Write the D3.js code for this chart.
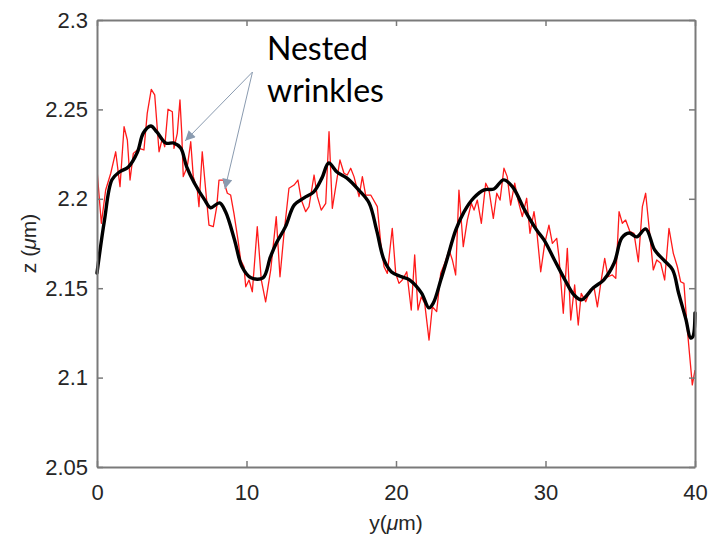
<!DOCTYPE html>
<html>
<head>
<meta charset="utf-8">
<script src="https://cdn.jsdelivr.net/npm/d3@7"></script>
<style>
  html, body { margin: 0; padding: 0; background: #ffffff; }
  svg { display: block; }
</style>
</head>
<body>
<div id="chart"></div>
<script>
// ---- data ----
// raw profile (red): position y (µm) and height z (µm)
const rawY = [0.02,0.29,0.58,0.92,1.25,1.54,1.81,2.03,2.21,2.43,2.81,3.14,3.36,3.63,3.86,4.15,4.37,4.53,4.75,5.04,5.15,5.37,5.55,5.67,5.77,6.04,6.27,6.44,6.71,6.82,7.04,7.27,7.49,7.78,8.01,8.16,8.45,8.72,8.94,9.16,9.43,9.61,9.83,
  9.95,10.17,10.39,10.72,10.99,11.28,11.62,11.99,12.24,12.51,12.84,13.18,13.44,13.67,13.96,14.18,14.52,14.74,15.00,15.30,15.52,15.74,15.97,16.25,16.52,16.74,16.97,17.19,17.53,17.75,17.97,18.31,18.75,18.98,19.20,19.42,19.75,19.98,20.20,20.42,
  20.72,21.02,21.25,21.47,21.69,21.92,22.21,22.43,22.72,22.99,23.26,23.55,23.77,23.99,24.21,24.50,24.77,25.04,25.22,25.44,25.71,26.00,26.22,26.51,26.74,26.96,27.22,27.44,27.67,27.94,28.16,28.45,28.74,28.96,29.23,29.41,29.68,29.95,30.23,30.46,
  30.75,30.90,31.19,31.46,31.69,31.95,32.19,32.39,32.69,32.98,33.24,33.47,33.73,33.96,34.18,34.47,34.70,34.92,35.14,35.36,35.65,35.92,36.21,36.48,36.70,36.99,37.21,37.44,37.71,37.97,38.26,38.55,38.82,39.04,39.26,39.45,39.67,39.82,40.00];
const rawZ = [2.2143,2.1863,2.2049,2.2143,2.2263,2.2068,2.2403,2.2329,2.2105,2.2254,2.2282,2.2273,2.2478,2.2612,2.2581,2.2263,2.2338,2.2291,2.2501,2.2487,2.2282,2.2366,2.2553,2.2366,2.2124,2.2180,2.2319,2.2124,2.2049,2.1956,2.2263,2.2049,2.1853,2.1844,2.1956,2.2105,2.2105,2.2031,2.2021,2.1919,2.1770,2.1658,2.1620,
  2.1508,2.1546,2.1480,2.1844,2.1546,2.1424,2.1602,2.1900,2.1564,2.1807,2.2059,2.2077,2.2105,2.1993,2.1928,2.1956,2.2133,2.2012,2.1937,2.1975,2.2375,2.1947,2.2068,2.2217,2.2143,2.2133,2.2171,2.2124,2.2012,2.2124,2.2021,2.2021,2.1956,2.1751,2.1620,2.1583,2.1835,2.1583,2.1527,2.1546,
  2.1592,2.1378,2.1686,2.1378,2.1452,2.1415,2.1210,2.1396,2.1369,2.1583,2.1639,2.1714,2.1658,2.1574,2.2049,2.1732,2.1881,2.1975,2.1937,2.1993,2.1863,2.2087,2.2049,2.1891,2.2031,2.1993,2.2171,2.2124,2.1965,2.2087,2.1993,2.1900,2.2003,2.1807,2.1928,2.1825,2.1592,2.1751,2.1853,2.1751,
  2.1779,2.1676,2.1360,2.1723,2.1322,2.1518,2.1294,2.1471,2.1424,2.1490,2.1508,2.1396,2.1546,2.1667,2.1564,2.1574,2.1555,2.1928,2.1863,2.1881,2.1816,2.1807,2.1648,2.1956,2.2031,2.1788,2.1602,2.1658,2.1639,2.1546,2.1835,2.1695,2.1620,2.1536,2.1527,2.1304,2.1098,2.0959,2.1042];

// smoothed profile (black)
const smoothY = [0.0,0.5,1.0,1.5,2.1,2.7,3.1,3.6,4.0,4.6,5.15,5.6,6.0,6.5,7.2,7.6,8.2,8.6,9.2,9.7,10.3,11.1,11.6,12.0,12.6,13.2,13.85,14.5,15.05,15.5,16.05,16.7,17.5,18.2,18.7,19.2,19.7,20.4,20.9,21.7,22.2,22.5,23.0,23.4,24.0,24.55,25.2,25.9,26.55,27.2,27.8,28.6,29.4,29.9,30.6,31.3,31.9,32.4,33.2,33.9,34.6,35.1,35.6,36.1,36.7,37.3,37.9,38.5,38.9,39.4,39.7,39.85,40.0];
const smoothZ = [2.1585,2.1880,2.2106,2.2150,2.2178,2.2260,2.2368,2.2407,2.2374,2.2312,2.2312,2.2284,2.2178,2.2090,2.1994,2.1950,2.1977,2.1927,2.1770,2.1620,2.1558,2.1558,2.1675,2.1753,2.1843,2.1966,2.2005,2.2039,2.2117,2.2200,2.2150,2.2117,2.2050,2.1977,2.1826,2.1658,2.1591,2.1563,2.1547,2.1474,2.1390,2.1418,2.1547,2.1658,2.1826,2.1927,2.2005,2.2050,2.2055,2.2106,2.2067,2.1938,2.1826,2.1770,2.1658,2.1547,2.1463,2.1435,2.1502,2.1547,2.1642,2.1781,2.1809,2.1787,2.1832,2.1714,2.1658,2.1603,2.1474,2.1323,2.1222,2.1228,2.1362];

const xTicks = [0, 10, 20, 30, 40];
const yTicks = [2.05, 2.1, 2.15, 2.2, 2.25, 2.3];
const xTickLabels = ["0", "10", "20", "30", "40"];
const yTickLabels = ["2.05", "2.1", "2.15", "2.2", "2.25", "2.3"];
const annotationLines = ["Nested", "wrinkles"];
// arrow targets (y in µm, z in µm) and common origin
const arrowOrigin = [10.4, 2.2709];
const arrowTargets = [[5.9, 2.2324], [8.56, 2.2055]];

// ---- layout ----
const W = 712, H = 542;
const margin = { top: 20, right: 17, bottom: 75, left: 97 };
const iw = W - margin.left - margin.right;
const ih = H - margin.top - margin.bottom;

const svg = d3.select("#chart").append("svg")
  .attr("width", W).attr("height", H)
  .attr("viewBox", `0 0 ${W} ${H}`);
svg.append("rect").attr("width", W).attr("height", H).attr("fill", "#fff");

const x = d3.scaleLinear().domain([0, 40]).range([margin.left, margin.left + iw]);
const y = d3.scaleLinear().domain([2.05, 2.3]).range([margin.top + ih, margin.top]);

const axisColor = "#7a7a7a";
const textColor = "#262626";
const fontFam = "'Liberation Sans', Arial, sans-serif";

// ---- data lines ----
const clipId = "plotclip";
svg.append("clipPath").attr("id", clipId).append("rect")
  .attr("x", margin.left).attr("y", margin.top).attr("width", iw).attr("height", ih);

const rawData = rawY.map((v, i) => [v, rawZ[i]]);
const smoothData = smoothY.map((v, i) => [v, smoothZ[i]]);

svg.append("path")
  .datum(rawData)
  .attr("clip-path", `url(#${clipId})`)
  .attr("fill", "none")
  .attr("stroke", "#ff1a1a")
  .attr("stroke-width", 1.3)
  .attr("stroke-linejoin", "round")
  .attr("d", d3.line().x(d => x(d[0])).y(d => y(d[1])));

svg.append("path")
  .datum(smoothData)
  .attr("fill", "none")
  .attr("stroke", "#000")
  .attr("stroke-width", 3.4)
  .attr("stroke-linejoin", "round")
  .attr("stroke-linecap", "round")
  .attr("d", d3.line().curve(d3.curveCatmullRom.alpha(0.5)).x(d => x(d[0])).y(d => y(d[1])));

// ---- axes (box with inward ticks) ----
function styleAxis(g) {
  g.select(".domain").attr("stroke", axisColor).attr("stroke-width", 2);
  g.selectAll(".tick line").attr("stroke", axisColor).attr("stroke-width", 1.5);
  g.selectAll(".tick text").attr("fill", textColor)
    .style("font-family", fontFam).style("font-size", "22px");
}

const gx = svg.append("g").attr("transform", `translate(0,${margin.top + ih})`)
  .call(d3.axisBottom(x).tickValues(xTicks).tickFormat((d, i) => xTickLabels[i])
    .tickSizeInner(-6).tickSizeOuter(0).tickPadding(17));
styleAxis(gx);

const gy = svg.append("g").attr("transform", `translate(${margin.left},0)`)
  .call(d3.axisLeft(y).tickValues(yTicks).tickFormat((d, i) => yTickLabels[i])
    .tickSizeInner(-6).tickSizeOuter(0).tickPadding(9));
styleAxis(gy);

const gt = svg.append("g").attr("transform", `translate(0,${margin.top})`)
  .call(d3.axisTop(x).tickValues(xTicks).tickFormat("").tickSizeInner(-6).tickSizeOuter(0));
styleAxis(gt);

const gr = svg.append("g").attr("transform", `translate(${margin.left + iw},0)`)
  .call(d3.axisRight(y).tickValues(yTicks).tickFormat("").tickSizeInner(-6).tickSizeOuter(0));
styleAxis(gr);

// ---- axis titles ----
const xt = svg.append("text")
  .attr("x", x(20)).attr("y", 530)
  .attr("text-anchor", "middle")
  .attr("fill", textColor)
  .style("font-family", fontFam).style("font-size", "21px");
xt.append("tspan").text("y(");
xt.append("tspan").style("font-style", "italic").text("μ");
xt.append("tspan").text("m)");

const yt = svg.append("text")
  .attr("transform", `translate(36,${y(2.175)}) rotate(-90)`)
  .attr("text-anchor", "middle")
  .attr("fill", textColor)
  .style("font-family", fontFam).style("font-size", "21px");
yt.append("tspan").text("z (");
yt.append("tspan").style("font-style", "italic").text("μ");
yt.append("tspan").text("m)");

// ---- annotation ----
const arrowColor = "#8a9bb0";
const defs = svg.append("defs");
defs.append("marker")
  .attr("id", "ah")
  .attr("viewBox", "0 0 10 10")
  .attr("refX", 10).attr("refY", 5)
  .attr("markerWidth", 13).attr("markerHeight", 10)
  .attr("markerUnits", "userSpaceOnUse")
  .attr("orient", "auto")
  .append("path").attr("d", "M0,0 L10,5 L0,10 Z").attr("fill", arrowColor);

arrowTargets.forEach(t => {
  svg.append("line")
    .attr("x1", x(arrowOrigin[0])).attr("y1", y(arrowOrigin[1]))
    .attr("x2", x(t[0])).attr("y2", y(t[1]))
    .attr("stroke", arrowColor).attr("stroke-width", 1)
    .attr("marker-end", "url(#ah)");
});

const ann = svg.append("text")
  .attr("fill", "#000")
  .style("font-family", "Lato, 'Open Sans', sans-serif")
  .style("font-size", "32px");
annotationLines.forEach((s, i) => {
  ann.append("tspan").attr("x", 267).attr("y", 60 + i * 42).text(s);
});
</script>
</body>
</html>
